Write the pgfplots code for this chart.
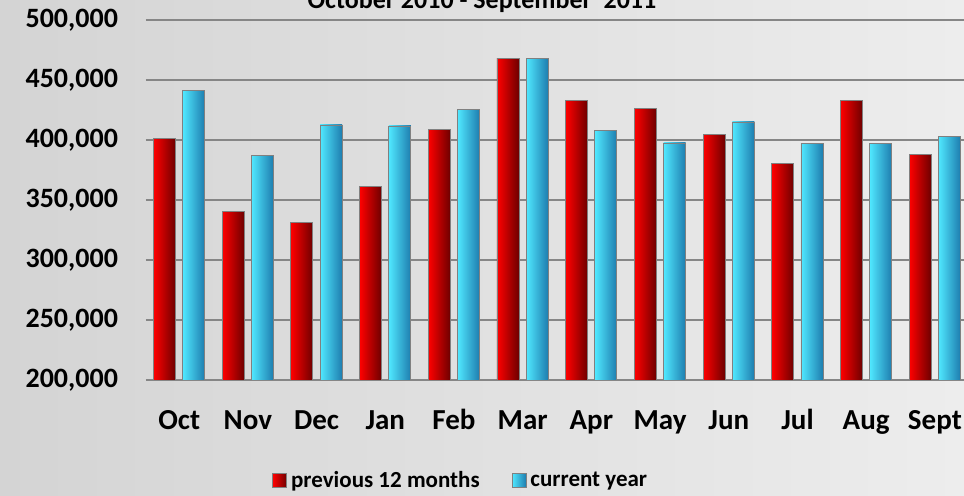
\documentclass[border=0pt]{standalone}
\usepackage{fontspec}
\setmainfont{Carlito}
\usepackage{pgfplots}
\pgfplotsset{compat=1.18}

\definecolor{bgleft}{RGB}{212,212,212}
\definecolor{bgright}{RGB}{237,237,237}
\definecolor{gridgray}{RGB}{134,134,134}
\definecolor{redA}{RGB}{255,0,0}
\definecolor{redB}{RGB}{238,0,0}
\definecolor{redC}{RGB}{110,0,0}
\definecolor{cyanA}{RGB}{80,232,255}
\definecolor{cyanB}{RGB}{52,200,238}
\definecolor{cyanC}{RGB}{30,125,175}

\tikzset{
  redbar/.style={draw=gray, line width=0.4pt, left color=redA, middle color=redB, right color=redC},
  cyanbar/.style={draw=gray, line width=0.4pt, left color=cyanA, middle color=cyanB, right color=cyanC},
}

\pgfplotstableread{
x prev curr
0 401400 441100
1 340300 386900
2 331400 412500
3 361100 411700
4 408900 425800
5 468000 468000
6 432800 407800
7 426100 397500
8 404400 415000
9 380500 397200
10 433300 397200
11 388100 403300
}\visits

\begin{document}
\begin{tikzpicture}
\shade[left color=bgleft, right color=bgright] (-73pt,-58pt) rectangle (409pt,190pt);
\useasboundingbox (-73pt,-58pt) rectangle (409pt,190pt);
\begin{axis}[
at={(0,0)}, anchor=south west,
scale only axis,
width=409pt, height=180pt,
xmin=-0.483, xmax=11.424,
ymin=200000, ymax=500000,
ytick={200000,250000,300000,350000,400000,450000,500000},
scaled y ticks=false,
/pgf/number format/fixed,
/pgf/number format/1000 sep={,},
/pgf/number format/assume math mode=true,
y tick label style={font=\fontsize{14}{17}\selectfont\bfseries, anchor=east, xshift=-10.5pt},
xtick={0,...,11},
xticklabels={Oct,Nov,Dec,Jan,Feb,Mar,Apr,May,Jun,Jul,Aug,Sept},
x tick label style={font=\fontsize{14.5}{17}\selectfont\bfseries, anchor=base, yshift=-25pt},
major tick length=0pt,
axis line style={draw=none},
ymajorgrids,
grid style={gridgray, line width=0.75pt},
ybar,
bar width=11pt,
legend columns=2,
legend style={at={(0.386,-0.279)}, anchor=center, draw=none, fill=none,
  font=\fontsize{11.5}{14}\selectfont\bfseries,
  /tikz/every even column/.append style={column sep=14pt}},
]
% one plot per bar so that each bar gets its own shading
\pgfplotsinvokeforeach{-0.2:0.2,0.8:1.2,1.8:2.2,2.8:3.2,3.8:4.2,4.8:5.2,5.8:6.2,6.8:7.2,7.8:8.2,8.8:9.2,9.8:10.2,10.8:11.2}{
  \addplot[redbar, bar shift=-7.35pt, forget plot, restrict x to domain=#1]
    table[x=x, y=prev] {\visits};
  \addplot[cyanbar, bar shift=7.25pt, forget plot, restrict x to domain=#1]
    table[x=x, y=curr] {\visits};
}
\addlegendimage{legend image code/.code={\draw[redbar] (0pt,-3.5pt) rectangle (7pt,3.5pt);}}
\addlegendentry{previous 12 months}
\addlegendimage{legend image code/.code={\draw[cyanbar] (0pt,-3.5pt) rectangle (7pt,3.5pt);}}
\addlegendentry{current year}
\end{axis}
\node[anchor=base, font=\fontsize{13}{15}\selectfont\bfseries] at (168pt,185.5pt) {October 2010 - September\ \ 2011};
\end{tikzpicture}
\end{document}
